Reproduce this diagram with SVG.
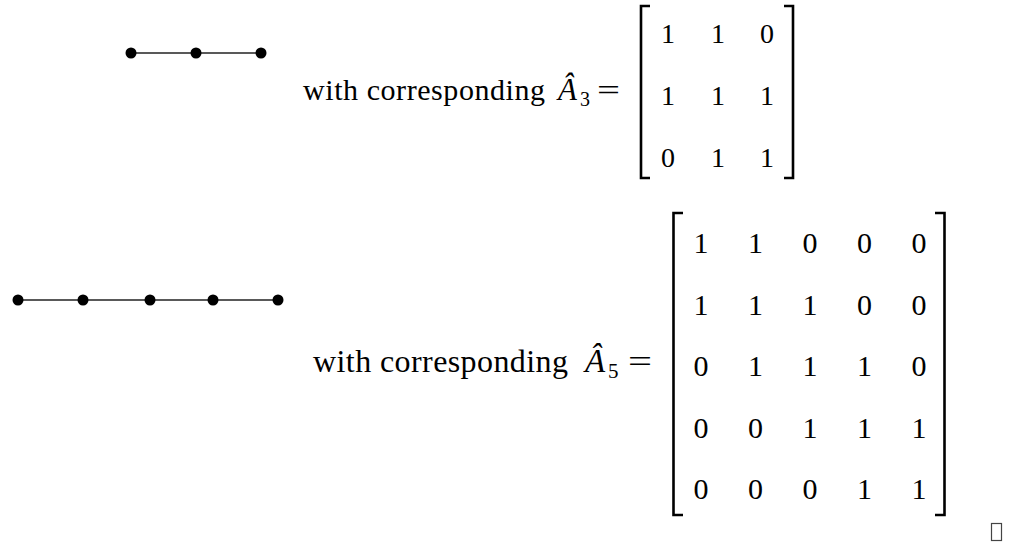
<svg xmlns="http://www.w3.org/2000/svg" width="1010" height="546" viewBox="0 0 1010 546">
<style>
.dot{fill:#000}
.edge{stroke:#222;stroke-width:1.6}
.t{font-family:"Liberation Serif","Times New Roman",serif;fill:#000}
.d1{font-family:"Liberation Serif","Times New Roman",serif;font-size:28px;fill:#000;text-anchor:middle}
.d2{font-family:"Liberation Serif","Times New Roman",serif;font-size:30px;fill:#000;text-anchor:middle}
.br{fill:none;stroke:#000;stroke-width:2.6}
</style>
<rect width="1010" height="546" fill="#fff"/>
<g id="connectors">
<line class="edge" x1="131" y1="53" x2="196" y2="53"/>
<line class="edge" x1="196" y1="53" x2="261" y2="53"/>
<line class="edge" x1="18" y1="300" x2="83" y2="300"/>
<line class="edge" x1="83" y1="300" x2="150" y2="300"/>
<line class="edge" x1="150" y1="300" x2="213" y2="300"/>
<line class="edge" x1="213" y1="300" x2="278" y2="300"/>
</g>
<g id="g1-n1"><circle class="dot" cx="131" cy="53" r="5.5"/></g>
<g id="g1-n2"><circle class="dot" cx="196" cy="53" r="5.5"/></g>
<g id="g1-n3"><circle class="dot" cx="261" cy="53" r="5.5"/></g>
<g id="g2-n1"><circle class="dot" cx="18" cy="300" r="5.5"/></g>
<g id="g2-n2"><circle class="dot" cx="83" cy="300" r="5.5"/></g>
<g id="g2-n3"><circle class="dot" cx="150" cy="300" r="5.5"/></g>
<g id="g2-n4"><circle class="dot" cx="213" cy="300" r="5.5"/></g>
<g id="g2-n5"><circle class="dot" cx="278" cy="300" r="5.5"/></g>

<g id="label1">
<text class="t" x="303" y="100" font-size="30" textLength="242">with corresponding</text>
<text class="t" x="558" y="100" font-style="italic" font-size="31">Â</text>
<text class="t" x="580" y="106" font-size="20">3</text>
<text class="t" x="597" y="100" font-size="30" textLength="23" lengthAdjust="spacingAndGlyphs">=</text>
</g>
<g id="matrix1">
<path class="br" d="M650,6 H641 V178 H650"/>
<path class="br" d="M784,6 H793 V178 H784"/>
<text class="d1" x="668" y="43">1</text><text class="d1" x="718" y="43">1</text><text class="d1" x="767" y="43">0</text>
<text class="d1" x="668" y="105">1</text><text class="d1" x="718" y="105">1</text><text class="d1" x="767" y="105">1</text>
<text class="d1" x="668" y="167">0</text><text class="d1" x="718" y="167">1</text><text class="d1" x="767" y="167">1</text>
</g>

<g id="label2">
<text class="t" x="313" y="372" font-size="32" textLength="255">with corresponding</text>
<text class="t" x="585" y="372" font-style="italic" font-size="33">Â</text>
<text class="t" x="608" y="378" font-size="21">5</text>
<text class="t" x="628" y="372" font-size="32" textLength="24" lengthAdjust="spacingAndGlyphs">=</text>
</g>
<g id="matrix2">
<path class="br" d="M683,213 H673.5 V515 H683"/>
<path class="br" d="M935,213 H944.5 V515 H935"/>
<text class="d2" x="701" y="253">1</text><text class="d2" x="755.5" y="253">1</text><text class="d2" x="810" y="253">0</text><text class="d2" x="864.5" y="253">0</text><text class="d2" x="919" y="253">0</text>
<text class="d2" x="701" y="314.5">1</text><text class="d2" x="755.5" y="314.5">1</text><text class="d2" x="810" y="314.5">1</text><text class="d2" x="864.5" y="314.5">0</text><text class="d2" x="919" y="314.5">0</text>
<text class="d2" x="701" y="376">0</text><text class="d2" x="755.5" y="376">1</text><text class="d2" x="810" y="376">1</text><text class="d2" x="864.5" y="376">1</text><text class="d2" x="919" y="376">0</text>
<text class="d2" x="701" y="437.5">0</text><text class="d2" x="755.5" y="437.5">0</text><text class="d2" x="810" y="437.5">1</text><text class="d2" x="864.5" y="437.5">1</text><text class="d2" x="919" y="437.5">1</text>
<text class="d2" x="701" y="499">0</text><text class="d2" x="755.5" y="499">0</text><text class="d2" x="810" y="499">0</text><text class="d2" x="864.5" y="499">1</text><text class="d2" x="919" y="499">1</text>
</g>
<rect x="991.5" y="523.5" width="10" height="17" fill="none" stroke="#444" stroke-width="1.2"/>
</svg>
